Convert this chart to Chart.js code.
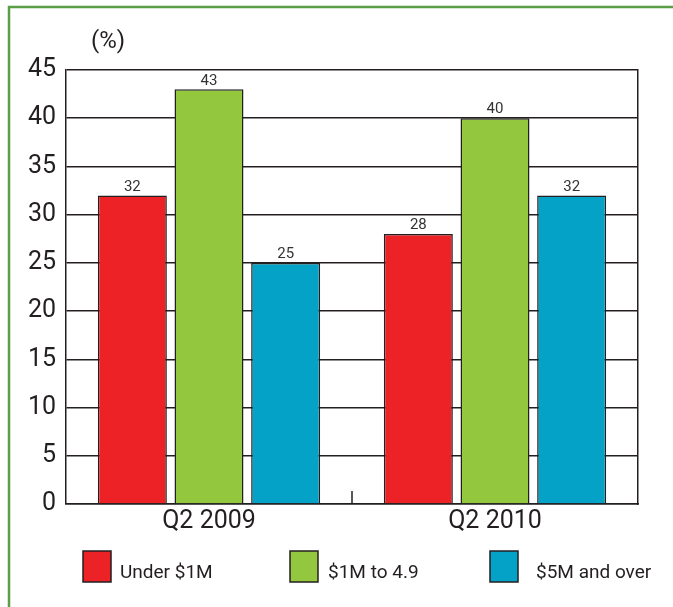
<!DOCTYPE html>
<html>
<head>
<meta charset="utf-8">
<script src="https://cdn.jsdelivr.net/npm/chart.js@4.4.1/dist/chart.umd.min.js"></script>
<style>
  html, body { margin: 0; padding: 0; background: #fff; }
  #wrap { position: relative; width: 673px; height: 607px; }
</style>
</head>
<body>
<div id="wrap"><canvas id="revenueChart"></canvas></div>
<script>
const quarters = ['Q2 2009', 'Q2 2010'];
const seriesNames = ['Under $1M', '$1M to 4.9', '$5M and over'];
const underOneM = [32, 28];
const oneToFive = [43, 40];
const fiveAndOver = [25, 32];
const yTicks = [0, 5, 10, 15, 20, 25, 30, 35, 40, 45];

const fontFamily = "Roboto, 'Open Sans', sans-serif";
const ink = '#231f20';

// white page with the green frame on top and left
const framePlugin = {
    id: 'frame',
    beforeDraw(chart) {
        const ctx = chart.ctx;
        ctx.save();
        ctx.fillStyle = '#fff';
        ctx.fillRect(0, 0, chart.width, chart.height);
        ctx.strokeStyle = '#5a9e48';
        ctx.lineWidth = 2.5;
        ctx.beginPath();
        ctx.moveTo(9, chart.height);
        ctx.lineTo(9, 7);
        ctx.lineTo(chart.width, 7);
        ctx.stroke();
        ctx.restore();
    }
};

// "(%)" unit, the small divider tick and the value labels
const extrasPlugin = {
    id: 'extras',
    afterDatasetsDraw(chart) {
        const ctx = chart.ctx;
        const area = chart.chartArea;
        const x = chart.scales.x;
        ctx.save();

        ctx.fillStyle = ink;
        ctx.font = '24px ' + fontFamily;
        ctx.textAlign = 'center';
        ctx.textBaseline = 'middle';
        ctx.fillText('(%)', area.left + 42, area.top - 28);

        const mid = (x.getPixelForValue(0) + x.getPixelForValue(1)) / 2;
        ctx.strokeStyle = ink;
        ctx.lineWidth = 1.5;
        ctx.beginPath();
        ctx.moveTo(mid, area.bottom);
        ctx.lineTo(mid, area.bottom - 13);
        ctx.stroke();

        ctx.fillStyle = '#333';
        ctx.font = '15px ' + fontFamily;
        ctx.textBaseline = 'bottom';
        chart.data.datasets.forEach((ds, di) => {
            chart.getDatasetMeta(di).data.forEach((bar, i) => {
                ctx.fillText(String(ds.data[i]), bar.x, bar.y - 1);
            });
        });
        ctx.restore();
    }
};

// legend boxes along the bottom
const legendBoxX = [83, 290, 490];
const legendTextGap = [9, 10, 18];
const legendPlugin = {
    id: 'bottomLegend',
    afterDraw(chart) {
        const ctx = chart.ctx;
        ctx.save();
        ctx.font = '19px ' + fontFamily;
        ctx.textBaseline = 'middle';
        ctx.textAlign = 'left';
        const top = 551;
        chart.data.datasets.forEach((ds, i) => {
            const lx = legendBoxX[i];
            ctx.fillStyle = ds.backgroundColor;
            ctx.fillRect(lx, top, 28, 31);
            ctx.strokeStyle = ink;
            ctx.lineWidth = 1.5;
            ctx.strokeRect(lx, top, 28, 31);
            ctx.fillStyle = ink;
            ctx.fillText(ds.label, lx + 28 + legendTextGap[i], top + 22);
        });
        ctx.restore();
    }
};

const barStyle = {
    borderColor: ink,
    borderWidth: 1.5,
    categoryPercentage: 0.804,
    barPercentage: 0.9
};

new Chart(document.getElementById('revenueChart'), {
    type: 'bar',
    data: {
        labels: quarters,
        datasets: [
            Object.assign({ label: seriesNames[0], data: underOneM, backgroundColor: '#ed2226' }, barStyle),
            Object.assign({ label: seriesNames[1], data: oneToFive, backgroundColor: '#93c83e' }, barStyle),
            Object.assign({ label: seriesNames[2], data: fiveAndOver, backgroundColor: '#05a2c8' }, barStyle)
        ]
    },
    options: {
        responsive: true,
        maintainAspectRatio: false,
        animation: false,
        layout: { padding: { left: 10, right: 35, top: 70, bottom: 63 } },
        plugins: {
            legend: { display: false },
            tooltip: { enabled: false }
        },
        scales: {
            x: {
                grid: { display: false, drawTicks: false },
                border: { display: true, color: ink, width: 1.5 },
                ticks: {
                    color: ink,
                    padding: 3,
                    font: { family: fontFamily, size: 25 }
                },
                afterFit(scale) { scale.height = 40; }
            },
            y: {
                min: 0,
                max: 45,
                afterBuildTicks(scale) { scale.ticks = yTicks.map(v => ({ value: v })); },
                grid: { color: ink, lineWidth: 1.5, drawTicks: false },
                border: { display: true, color: ink, width: 1.5 },
                ticks: {
                    color: ink,
                    padding: 10,
                    font: { family: fontFamily, size: 25 }
                },
                afterFit(scale) { scale.width = 56; }
            },
            y2: {
                position: 'right',
                min: 0,
                max: 45,
                grid: { drawOnChartArea: false, drawTicks: false },
                border: { display: true, color: ink, width: 1.5 },
                ticks: { display: false },
                afterFit(scale) { scale.width = 0; }
            }
        }
    },
    plugins: [framePlugin, extrasPlugin, legendPlugin]
});
</script>
</body>
</html>
